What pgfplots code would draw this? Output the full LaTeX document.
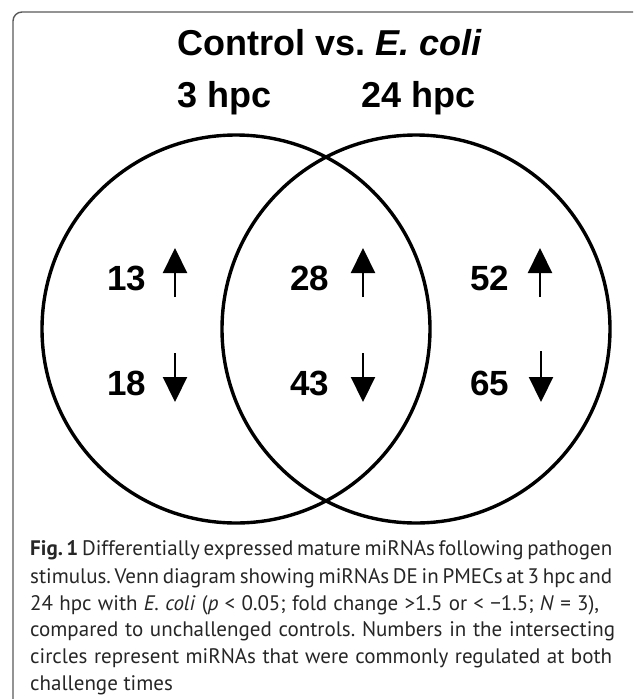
\documentclass[border=0pt]{standalone}
\usepackage{fontspec}
\setmainfont{Liberation Sans}
\newfontfamily\capfont{PT Sans}
\usepackage{pgfplots}
\pgfplotsset{compat=1.18}
\usetikzlibrary{arrows.meta}
\frenchspacing

\begin{document}
\begin{tikzpicture}
\begin{axis}[
  at={(0,0)}, anchor=south west,
  width=633pt, height=699pt, scale only axis,
  xmin=0, xmax=633, ymin=0, ymax=699, y dir=reverse,
  hide axis, clip=true,
]
% frame
\draw[black!65, line width=1.4pt, rounded corners=9pt] (axis cs:13,12) rectangle (axis cs:646,712);
% circles (centres, radius 194)
\addplot[only marks, mark=o, mark size=194pt, mark options={line width=3.4pt, black}]
  coordinates {(236,329) (416,329)};
% up arrows
\addplot[black, line width=2.2pt, -{Triangle[length=25pt, width=24pt]}] coordinates {(175,297) (175,248)};
\addplot[black, line width=2.2pt, -{Triangle[length=25pt, width=24pt]}] coordinates {(363,297) (363,248)};
\addplot[black, line width=2.2pt, -{Triangle[length=25pt, width=24pt]}] coordinates {(540,297) (540,248)};
% down arrows
\addplot[black, line width=2.2pt, -{Triangle[length=25pt, width=24pt]}] coordinates {(175,353) (175,402)};
\addplot[black, line width=2.2pt, -{Triangle[length=25pt, width=24pt]}] coordinates {(363,353) (363,402)};
\addplot[black, line width=2.2pt, -{Triangle[length=25pt, width=24pt]}] coordinates {(541,351) (541,402)};
% numbers
\begin{scope}[every node/.style={anchor=base, font=\bfseries\fontsize{35}{40}\selectfont}]
\node at (axis cs:126.5,290) {13};
\node at (axis cs:126.5,395) {18};
\node at (axis cs:310,290) {28};
\node at (axis cs:310,395) {43};
\node at (axis cs:490,290) {52};
\node at (axis cs:490,395) {65};
\end{scope}
% titles
\node[anchor=base, font=\bfseries\fontsize{36}{40}\selectfont] at (axis cs:330,55) {Control vs. \textit{E. coli}};
\node[anchor=base, font=\bfseries\fontsize{36}{40}\selectfont] at (axis cs:225,107) {3 hpc};
\node[anchor=base, font=\bfseries\fontsize{36}{40}\selectfont] at (axis cs:419,107) {24 hpc};
% caption
\begin{scope}[every node/.style={anchor=base west, inner sep=0pt, text=black!85, font=\capfont\fontsize{21}{27}\selectfont}]
\node at (axis cs:30,555) {\makebox[570pt][s]{\textbf{Fig. 1} Differentially expressed mature miRNAs following pathogen}};
\node at (axis cs:30,583) {\makebox[582pt][s]{stimulus. Venn diagram showing miRNAs DE in PMECs at 3 hpc and}};
\node at (axis cs:30,610) {\makebox[569pt][s]{24 hpc with \textit{E. coli} (\textit{p} < 0.05; fold change >1.5 or < −1.5; \textit{N} = 3),}};
\node at (axis cs:30,636) {\makebox[585pt][s]{compared to unchallenged controls. Numbers in the intersecting}};
\node at (axis cs:30,663) {\makebox[582pt][s]{circles represent miRNAs that were commonly regulated at both}};
\node at (axis cs:30,690) {challenge times};
\end{scope}
\end{axis}
\pgfresetboundingbox
\useasboundingbox (0,0) rectangle (633pt,699pt);
\end{tikzpicture}
\end{document}
